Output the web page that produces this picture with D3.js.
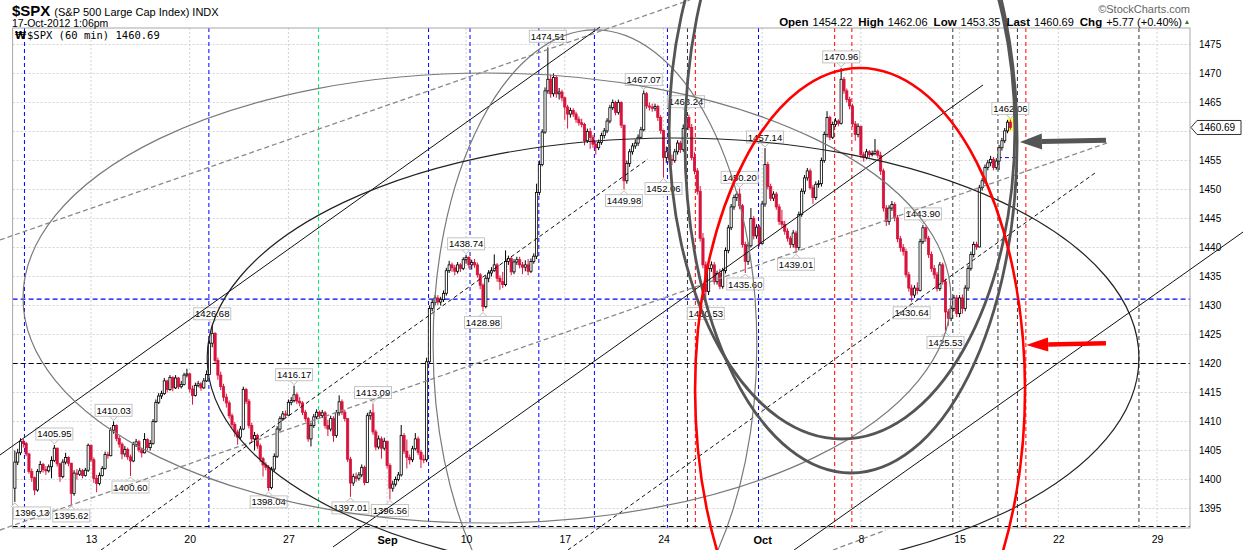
<!DOCTYPE html>
<html>
<head>
<meta charset="utf-8">
<title>$SPX 60 min</title>
<script src="https://cdn.jsdelivr.net/npm/d3@7"></script>
<style>
  body { margin: 0; background: #fff }
  svg { display: block; font-family: "Liberation Sans", Arial, sans-serif }
</style>
</head>
<body>
<svg id="chart" width="1243" height="550"></svg>
<script>
// ---- hourly bars, one row per trading day (7 bars: 9:30 .. 15:30) ----
var tradingDays = ['Aug 7', 'Aug 8', 'Aug 9', 'Aug 10', 'Aug 13', 'Aug 14', 'Aug 15', 'Aug 16', 'Aug 17',
  'Aug 20', 'Aug 21', 'Aug 22', 'Aug 23', 'Aug 24', 'Aug 27', 'Aug 28', 'Aug 29', 'Aug 30', 'Aug 31',
  'Sep 4', 'Sep 5', 'Sep 6', 'Sep 7', 'Sep 10', 'Sep 11', 'Sep 12', 'Sep 13', 'Sep 14',
  'Sep 17', 'Sep 18', 'Sep 19', 'Sep 20', 'Sep 21', 'Sep 24', 'Sep 25', 'Sep 26', 'Sep 27', 'Sep 28',
  'Oct 1', 'Oct 2', 'Oct 3', 'Oct 4', 'Oct 5', 'Oct 8', 'Oct 9', 'Oct 10', 'Oct 11', 'Oct 12',
  'Oct 15', 'Oct 16', 'Oct 17']
var firstOpen = 1398.5
var firstBar = 1      // the Aug 7 opening bar sits off the left edge
var dayOffset = 4     // Aug 13 is the first day of the x axis count

var dayCloses = [
  [1403.0, 1404.6, 1406.6, 1406.2, 1404.4, 1401.4],
  [1400.3, 1398.2, 1401.4, 1402.6, 1401.7, 1401.5, 1402.2],
  [1403.3, 1405.4, 1402.7, 1400.5, 1403.0, 1403.8, 1402.8],
  [1397.6, 1401.1, 1400.9, 1401.5, 1400.7, 1401.6, 1405.9],
  [1403.4, 1400.2, 1399.3, 1400.7, 1401.9, 1404.3, 1404.1],
  [1408.5, 1409.3, 1407.1, 1406.1, 1404.4, 1405.2, 1403.9],
  [1403.2, 1406.0, 1406.5, 1405.1, 1404.6, 1406.9, 1405.5],
  [1406.2, 1410.0, 1413.3, 1414.4, 1414.8, 1417.0, 1415.5],
  [1417.6, 1415.8, 1417.5, 1416.0, 1416.4, 1418.0, 1418.2],
  [1415.6, 1414.5, 1416.2, 1416.5, 1415.8, 1417.0, 1418.1],
  [1423.5, 1425.2, 1420.5, 1418.0, 1416.0, 1414.2, 1413.2],
  [1411.0, 1409.5, 1408.2, 1407.3, 1408.7, 1415.5, 1413.5],
  [1409.3, 1407.0, 1407.6, 1405.8, 1403.6, 1402.5, 1402.1],
  [1398.6, 1401.8, 1404.0, 1408.7, 1410.5, 1411.3, 1411.1],
  [1413.3, 1413.6, 1414.6, 1413.5, 1413.2, 1411.6, 1410.5],
  [1407.0, 1409.3, 1410.8, 1411.6, 1411.0, 1411.5, 1409.3],
  [1408.7, 1410.5, 1407.6, 1411.5, 1413.4, 1411.6, 1410.5],
  [1403.5, 1399.4, 1400.5, 1400.2, 1400.8, 1402.1, 1399.5],
  [1411.0, 1411.5, 1408.2, 1405.6, 1407.0, 1405.4, 1406.6],
  [1402.4, 1398.5, 1399.2, 1400.0, 1400.8, 1407.6, 1404.9],
  [1403.8, 1403.4, 1405.3, 1407.0, 1404.7, 1403.5, 1403.4],
  [1420.3, 1429.5, 1430.5, 1431.3, 1430.6, 1431.0, 1432.1],
  [1436.0, 1437.0, 1436.5, 1435.9, 1437.0, 1436.4, 1437.9],
  [1438.3, 1437.0, 1437.4, 1437.0, 1435.3, 1433.5, 1429.8],
  [1434.7, 1435.6, 1436.0, 1437.0, 1434.7, 1434.1, 1433.6],
  [1437.6, 1438.1, 1435.8, 1437.5, 1437.9, 1437.0, 1436.6],
  [1437.0, 1435.9, 1437.6, 1438.5, 1449.5, 1454.3, 1459.9],
  [1467.0, 1469.0, 1466.5, 1469.3, 1466.5, 1466.8, 1465.8],
  [1464.2, 1463.0, 1463.6, 1463.0, 1462.1, 1461.5, 1461.2],
  [1458.4, 1460.0, 1459.0, 1457.8, 1457.2, 1458.1, 1459.3],
  [1460.1, 1461.8, 1464.1, 1465.0, 1463.3, 1465.0, 1461.1],
  [1451.5, 1454.5, 1456.5, 1457.5, 1458.0, 1459.0, 1460.3],
  [1466.5, 1464.4, 1464.2, 1464.0, 1464.3, 1462.4, 1460.2],
  [1455.5, 1456.5, 1455.2, 1455.0, 1456.5, 1458.0, 1456.9],
  [1460.5, 1462.4, 1460.7, 1455.5, 1453.2, 1449.7, 1441.6],
  [1437.0, 1432.4, 1436.4, 1437.0, 1434.1, 1435.5, 1433.3],
  [1436.0, 1439.5, 1443.4, 1447.0, 1448.6, 1449.2, 1447.2],
  [1440.5, 1437.6, 1440.3, 1445.0, 1442.0, 1443.5, 1440.7],
  [1447.5, 1454.3, 1450.5, 1448.5, 1449.2, 1447.0, 1444.5],
  [1444.0, 1442.8, 1441.6, 1440.5, 1442.5, 1440.0, 1445.7],
  [1449.7, 1452.0, 1453.2, 1450.3, 1448.6, 1450.9, 1451.0],
  [1455.0, 1459.5, 1462.4, 1459.0, 1461.2, 1461.8, 1461.4],
  [1469.0, 1467.0, 1465.5, 1464.4, 1461.3, 1459.5, 1460.9],
  [1456.0, 1455.5, 1456.5, 1456.0, 1456.2, 1456.6, 1455.9],
  [1453.2, 1446.8, 1444.5, 1446.8, 1447.4, 1445.1, 1441.5],
  [1440.0, 1439.3, 1435.3, 1433.0, 1431.8, 1433.0, 1432.6],
  [1441.0, 1443.4, 1441.6, 1438.8, 1436.4, 1435.3, 1432.9],
  [1437.0, 1434.1, 1428.9, 1427.8, 1429.5, 1431.3, 1428.6],
  [1431.3, 1429.5, 1433.0, 1436.4, 1438.8, 1440.5, 1440.1],
  [1450.3, 1451.5, 1453.8, 1454.6, 1455.2, 1453.8, 1454.9],
  [1457.2, 1458.4, 1460.1, 1461.6, 1460.69]
]

var dayHighs = [
  [1405.0, 1405.3, 1407.1, 1407.0, 1406.5, 1404.6],
  [1401.9, 1400.5, 1401.8, 1403.2, 1402.9, 1402.3, 1402.6],
  [1404.0, 1405.95, 1405.5, 1402.9, 1403.5, 1404.6, 1404.0],
  [1402.9, 1401.6, 1401.8, 1402.0, 1401.8, 1402.0, 1406.2],
  [1406.0, 1403.8, 1400.8, 1401.2, 1402.3, 1404.8, 1404.8],
  [1409.0, 1410.03, 1409.5, 1407.5, 1406.4, 1405.8, 1405.5],
  [1404.3, 1406.5, 1407.0, 1406.8, 1405.4, 1408.0, 1407.1],
  [1406.8, 1410.4, 1413.8, 1414.9, 1415.3, 1417.5, 1417.2],
  [1418.0, 1417.8, 1418.0, 1417.7, 1417.0, 1418.4, 1419.1],
  [1418.4, 1416.2, 1416.7, 1417.0, 1416.8, 1417.5, 1418.8],
  [1424.0, 1426.68, 1425.4, 1421.0, 1418.6, 1416.5, 1414.8],
  [1413.6, 1411.4, 1409.9, 1408.6, 1409.2, 1416.0, 1415.8],
  [1413.9, 1409.8, 1408.2, 1407.9, 1406.2, 1403.9, 1403.0],
  [1402.5, 1402.2, 1404.5, 1409.2, 1410.9, 1411.8, 1411.9],
  [1413.8, 1414.2, 1416.17, 1415.0, 1414.2, 1413.5, 1412.0],
  [1410.8, 1409.8, 1411.3, 1412.1, 1411.9, 1412.0, 1411.8],
  [1410.3, 1411.0, 1410.9, 1412.0, 1414.5, 1413.8, 1412.0],
  [1410.3, 1403.9, 1401.0, 1401.2, 1401.3, 1402.6, 1402.4],
  [1411.5, 1412.0, 1413.09, 1408.6, 1407.6, 1407.4, 1407.2],
  [1406.5, 1402.8, 1399.8, 1400.5, 1401.3, 1409.4, 1408.0],
  [1406.9, 1404.3, 1405.8, 1408.0, 1407.4, 1405.1, 1404.3],
  [1421.0, 1430.0, 1431.0, 1431.8, 1431.8, 1431.5, 1432.6],
  [1436.5, 1437.7, 1437.4, 1437.0, 1437.5, 1437.3, 1438.3],
  [1438.74, 1438.5, 1437.9, 1438.0, 1437.4, 1435.6, 1433.8],
  [1435.2, 1436.1, 1436.6, 1438.8, 1437.3, 1435.2, 1435.8],
  [1439.5, 1438.6, 1438.4, 1438.0, 1438.4, 1438.4, 1437.5],
  [1437.8, 1438.0, 1438.1, 1439.0, 1451.0, 1455.0, 1460.4],
  [1467.6, 1474.51, 1469.8, 1470.0, 1469.7, 1467.5, 1467.2],
  [1466.0, 1464.6, 1464.1, 1464.0, 1463.4, 1462.6, 1462.2],
  [1461.5, 1460.5, 1460.6, 1459.4, 1458.3, 1458.6, 1459.8],
  [1460.6, 1462.3, 1464.6, 1465.5, 1465.3, 1465.5, 1465.2],
  [1461.0, 1455.0, 1457.0, 1458.0, 1458.6, 1459.5, 1460.8],
  [1467.07, 1466.8, 1465.0, 1464.8, 1464.8, 1464.6, 1462.8],
  [1459.0, 1457.4, 1456.9, 1456.0, 1457.0, 1458.5, 1458.4],
  [1461.2, 1463.24, 1462.9, 1461.3, 1456.4, 1453.7, 1450.6],
  [1442.5, 1437.6, 1437.0, 1437.6, 1437.5, 1436.0, 1436.3],
  [1436.5, 1440.0, 1443.9, 1447.5, 1449.1, 1449.7, 1450.2],
  [1447.5, 1441.0, 1440.8, 1446.8, 1445.4, 1444.0, 1443.9],
  [1448.0, 1457.14, 1454.8, 1451.0, 1449.7, 1449.6, 1447.5],
  [1446.5, 1444.6, 1443.3, 1442.0, 1443.0, 1442.9, 1446.2],
  [1450.2, 1452.5, 1453.7, 1453.6, 1450.8, 1451.4, 1451.6],
  [1455.5, 1460.0, 1463.5, 1462.7, 1461.7, 1462.3, 1462.1],
  [1470.96, 1469.4, 1467.4, 1466.0, 1464.8, 1461.8, 1461.4],
  [1460.9, 1456.5, 1457.0, 1456.8, 1456.7, 1458.7, 1456.9],
  [1456.5, 1453.6, 1447.3, 1447.3, 1448.0, 1447.8, 1445.6],
  [1442.0, 1440.6, 1439.8, 1435.8, 1433.6, 1433.5, 1434.0],
  [1441.5, 1443.9, 1443.6, 1442.0, 1439.3, 1437.0, 1435.8],
  [1437.5, 1437.4, 1434.6, 1429.4, 1430.0, 1431.8, 1431.8],
  [1431.8, 1431.9, 1433.5, 1436.9, 1439.3, 1441.0, 1441.0],
  [1450.8, 1452.0, 1454.3, 1455.1, 1455.8, 1455.6, 1455.4],
  [1457.7, 1458.9, 1460.6, 1462.0, 1462.06]
]

var dayLows = [
  [1396.13, 1402.5, 1404.2, 1405.5, 1404.0, 1401.0],
  [1399.6, 1397.3, 1397.9, 1401.0, 1401.2, 1400.8, 1401.2],
  [1400.2, 1403.0, 1402.2, 1399.6, 1400.2, 1402.6, 1402.3],
  [1395.62, 1397.2, 1400.0, 1400.6, 1400.2, 1400.5, 1401.3],
  [1403.0, 1399.4, 1397.8, 1399.0, 1400.5, 1401.7, 1403.6],
  [1404.0, 1407.9, 1406.6, 1405.5, 1403.5, 1403.9, 1403.4],
  [1400.6, 1403.0, 1405.6, 1404.7, 1403.8, 1404.5, 1405.0],
  [1405.0, 1406.0, 1409.8, 1413.0, 1413.9, 1414.6, 1415.0],
  [1415.3, 1415.2, 1415.6, 1415.6, 1415.7, 1416.2, 1417.6],
  [1415.0, 1412.9, 1414.3, 1415.9, 1415.3, 1415.6, 1416.8],
  [1418.0, 1422.8, 1420.0, 1417.2, 1415.4, 1413.5, 1412.4],
  [1410.5, 1408.9, 1407.4, 1406.0, 1407.0, 1408.5, 1413.0],
  [1408.8, 1406.4, 1405.0, 1405.3, 1403.0, 1400.5, 1401.6],
  [1398.04, 1398.3, 1401.4, 1403.7, 1408.3, 1410.1, 1410.6],
  [1411.0, 1412.8, 1413.3, 1413.0, 1412.6, 1411.1, 1410.0],
  [1406.5, 1405.7, 1408.9, 1410.4, 1410.5, 1410.6, 1408.8],
  [1407.5, 1408.3, 1406.5, 1407.2, 1411.0, 1411.1, 1410.0],
  [1403.0, 1397.01, 1398.9, 1399.6, 1399.8, 1400.4, 1399.0],
  [1399.8, 1410.3, 1407.7, 1405.0, 1405.2, 1403.6, 1405.0],
  [1401.9, 1396.56, 1397.9, 1398.8, 1399.7, 1400.5, 1404.4],
  [1401.9, 1402.6, 1403.0, 1405.0, 1404.2, 1402.0, 1402.8],
  [1403.0, 1420.0, 1429.0, 1430.0, 1430.1, 1430.0, 1430.6],
  [1431.7, 1435.6, 1435.8, 1435.2, 1435.5, 1435.8, 1436.1],
  [1437.2, 1436.4, 1436.2, 1436.5, 1434.8, 1432.8, 1428.98],
  [1429.5, 1434.0, 1435.0, 1435.8, 1434.1, 1432.7, 1433.0],
  [1433.3, 1437.0, 1435.2, 1435.4, 1437.0, 1436.4, 1435.4],
  [1435.9, 1435.2, 1435.6, 1437.2, 1438.0, 1449.0, 1454.0],
  [1459.6, 1466.5, 1465.8, 1466.0, 1465.8, 1465.5, 1465.2],
  [1462.0, 1460.5, 1462.4, 1462.5, 1461.5, 1461.0, 1460.7],
  [1457.6, 1458.0, 1457.0, 1457.2, 1456.0, 1456.8, 1457.7],
  [1458.8, 1459.7, 1461.4, 1463.7, 1462.8, 1462.9, 1460.6],
  [1449.98, 1451.0, 1453.9, 1456.0, 1457.0, 1457.5, 1458.7],
  [1460.0, 1463.9, 1463.6, 1463.4, 1463.5, 1461.8, 1459.6],
  [1452.06, 1454.6, 1454.6, 1454.2, 1454.6, 1456.0, 1456.3],
  [1456.5, 1460.2, 1460.2, 1455.0, 1452.6, 1449.1, 1441.0],
  [1436.4, 1430.53, 1431.8, 1435.8, 1433.6, 1433.6, 1432.8],
  [1432.9, 1435.5, 1439.0, 1443.0, 1446.5, 1448.0, 1446.6],
  [1440.0, 1435.6, 1437.0, 1440.0, 1441.4, 1441.5, 1440.2],
  [1440.5, 1447.0, 1450.0, 1448.0, 1448.0, 1446.5, 1443.9],
  [1443.4, 1442.2, 1441.0, 1439.9, 1440.0, 1439.01, 1439.5],
  [1445.3, 1449.2, 1451.5, 1450.0, 1447.5, 1448.2, 1450.3],
  [1450.5, 1454.6, 1459.0, 1458.5, 1458.7, 1460.8, 1460.9],
  [1461.2, 1466.5, 1465.0, 1463.8, 1460.8, 1458.4, 1459.0],
  [1455.4, 1454.8, 1455.2, 1455.5, 1455.7, 1455.9, 1455.4],
  [1452.5, 1446.2, 1443.7, 1443.9, 1446.3, 1444.5, 1440.9],
  [1439.3, 1438.6, 1434.8, 1432.4, 1430.64, 1431.3, 1431.9],
  [1432.4, 1440.6, 1441.0, 1438.2, 1435.8, 1434.6, 1432.4],
  [1432.5, 1433.6, 1425.53, 1426.5, 1427.3, 1429.0, 1428.0],
  [1428.0, 1428.6, 1429.0, 1432.5, 1436.0, 1438.3, 1439.6],
  [1440.0, 1449.8, 1451.0, 1453.3, 1454.0, 1453.3, 1453.4],
  [1453.35, 1456.7, 1458.0, 1459.7, 1460.3]
]

// ---- axes ----
var gridPrices = [1395, 1400, 1405, 1410, 1415, 1420, 1425, 1430, 1435, 1440, 1445, 1450, 1455, 1460, 1465, 1470, 1475]
var weekTickDays = [0, 5, 10, 15, 19, 24, 29, 34, 39, 44, 49, 54]   // trading days after Aug 13
var weekTickLabels = ['13', '20', '27', 'Sep', '10', '17', '24', 'Oct', '8', '15', '22', '29']
var monthLabels = ['Sep', 'Oct']

// ---- quote header ----
var quoteFields = ['Open', 'High', 'Low', 'Last', 'Chg']
var quoteValues = ['1454.22', '1462.06', '1453.35', '1460.69', '+5.77 (+0.40%)']
var lastPrice = 1460.69

// ---- annotations, in bar index / price ----
var blueMarks = [-23.6, 41.8, 119.7, 134.4, 158.8, 178.5, 204.4, 236.7]
var greenMarks = [80.7]
var redMarks = [214.3, 263.7, 269.8, 331.5]
var blackMarks = [211.5, 305.6, 321.6, 328.5, 371.6]
var blueLevels = [1431.1]
var blackLevels = [1420, 1391.9]
var shortBlueLevel = [321.6, 328.4, 1455.5]

var solidLines = [[-32.3, 1404.22, 180.5, 1478.02], [85.8, 1388.36, 316.3, 1468.02], [249.3, 1387.84, 408.5, 1442.67]]
var dashedLines = [[3.55, 1387.84, 197.5, 1455.26], [169.1, 1387.84, 356.0, 1452.84]]
var grayDashedLines = [[-32.3, 1441.29, 212.4, 1482.67], [-32.3, 1391.29, 360.3, 1458.02], [263.1, 1387.84, 281.9, 1391.29]]

var grayEllipses = [[140.4, 1431.29, 164.5, 38.79], [178.7, 1423.19, 57.4, 54.31]]
var blackEllipses = [[206.4, 1420.95, 165.2, 37.93]]
var darkEllipses = [[266.3, 1460.26, 61.3, 53.28], [269.5, 1458.36, 58.9, 57.24]]
var redEllipses = [[272.7, 1415.43, 58.5, 55.52]]

var grayArrows = [[359.9, 1458.5, 329.4, 1458.2]]
var redArrows = [[359.9, 1423.5, 331.6, 1423.2]]

var highLabels = [[-13, 1405.95], [8, 1410.03], [43, 1426.68], [72, 1416.17], [100, 1413.09], [133, 1438.74],
  [162, 1474.51], [196, 1467.07], [211, 1463.24], [230, 1450.20], [239, 1457.14], [266, 1470.96],
  [295, 1443.90], [326, 1462.06]]
var lowLabels = [[-27, 1396.13], [-7, 1395.62], [14, 1400.60], [63, 1398.04], [92, 1397.01], [106, 1396.56],
  [139, 1428.98], [189, 1449.98], [203, 1452.06], [218, 1430.53], [232, 1435.60], [250, 1439.01],
  [291, 1430.64], [303, 1425.53]]

// ---- build the bar list ----
var bars = []
var prevClose = firstOpen
tradingDays.forEach(function (day, d) {
  var start = d === 0 ? firstBar : 0
  dayCloses[d].forEach(function (c, i) {
    bars.push({ b: (d - dayOffset) * 7 + start + i, o: prevClose, c: c, hi: dayHighs[d][i], lo: dayLows[d][i] })
    prevClose = c
  })
})

var svg = d3.select('#chart')
var plot = { left: 12.6, right: 1190, top: 28, bottom: 528 }

var x = d3.scaleLinear().domain([-27.8, 389.7]).range([plot.left, plot.right])
var y = d3.scaleLinear().domain([1391.64, 1477.84]).range([plot.bottom, plot.top])

// grid
var grid = svg.append('g').attr('stroke', '#d2d2d2').attr('stroke-dasharray', '2,2').attr('stroke-width', 1)
grid.selectAll('line.h').data(gridPrices).enter().append('line')
  .attr('x1', plot.left).attr('x2', plot.right)
  .attr('y1', function (p) { return y(p) }).attr('y2', function (p) { return y(p) })
grid.selectAll('line.v').data(weekTickDays).enter().append('line')
  .attr('y1', plot.top).attr('y2', plot.bottom)
  .attr('x1', function (k) { return x(k * 7) }).attr('x2', function (k) { return x(k * 7) })

// vertical marker lines
function vMarks(list, colour) {
  svg.append('g').selectAll('line').data(list).enter().append('line')
    .attr('x1', function (b) { return x(b) }).attr('x2', function (b) { return x(b) })
    .attr('y1', plot.top).attr('y2', plot.bottom)
    .attr('stroke', colour).attr('stroke-width', 1).attr('stroke-dasharray', '4,3')
}
vMarks(blueMarks, '#0000ff')
vMarks(greenMarks, '#00e676')
vMarks(redMarks, '#ff0000')
vMarks(blackMarks, '#333')

// horizontal levels
function hLevels(list, colour) {
  svg.append('g').selectAll('line').data(list).enter().append('line')
    .attr('x1', plot.left).attr('x2', plot.right)
    .attr('y1', function (p) { return y(p) }).attr('y2', function (p) { return y(p) })
    .attr('stroke', colour).attr('stroke-width', 1.2).attr('stroke-dasharray', '5,3')
}
hLevels(blueLevels, '#0000ff')
hLevels(blackLevels, '#000')
svg.append('line')
  .attr('x1', x(shortBlueLevel[0])).attr('x2', x(shortBlueLevel[1]))
  .attr('y1', y(shortBlueLevel[2])).attr('y2', y(shortBlueLevel[2]))
  .attr('stroke', '#0000ff').attr('stroke-dasharray', '4,3')

// plot frame
svg.append('rect')
  .attr('x', plot.left).attr('y', plot.top)
  .attr('width', plot.right - plot.left).attr('height', plot.bottom - plot.top)
  .attr('fill', 'none').attr('stroke', '#a8a8a8')

// candles
var red = '#d7143c'
var lastBar = bars[bars.length - 1]
svg.append('rect')
  .attr('x', x(lastBar.b) - 3).attr('y', y(lastBar.hi) - 2)
  .attr('width', 6).attr('height', y(lastBar.lo) - y(lastBar.hi) + 4)
  .attr('fill', '#ffff55')

var candle = svg.append('g').selectAll('g').data(bars).enter().append('g')
candle.append('line')
  .attr('x1', function (d) { return x(d.b) }).attr('x2', function (d) { return x(d.b) })
  .attr('y1', function (d) { return y(Math.max(d.hi, d.o, d.c)) })
  .attr('y2', function (d) { return y(Math.min(d.lo, d.o, d.c)) })
  .attr('stroke', function (d) { return d.c >= d.o ? '#000' : red })
  .attr('stroke-width', 1)
candle.append('rect')
  .attr('x', function (d) { return x(d.b) - 1.1 })
  .attr('width', 2.2)
  .attr('y', function (d) { return y(Math.max(d.o, d.c)) })
  .attr('height', function (d) { return Math.max(0.8, Math.abs(y(d.o) - y(d.c))) })
  .attr('fill', function (d) { return d.c >= d.o ? '#fff' : red })
  .attr('stroke', function (d) { return d.c >= d.o ? '#000' : red })
  .attr('stroke-width', 0.8)

// high / low callouts
var labelLayer = svg.append('g').attr('font-size', '9.5px')
function callouts(list, above) {
  list.forEach(function (d) {
    var txt = d[1].toFixed(2)
    var w = 37, h = 12
    var px = x(d[0]), py = y(d[1])
    var cx = Math.max(plot.left + w / 2 + 1, px)
    var top = above ? py - 5 - h : py + 5
    var edge = above ? top + h : top
    labelLayer.append('path')
      .attr('d', 'M' + (px - 4) + ',' + edge + 'L' + px + ',' + (above ? py - 1 : py + 1) + 'L' + (px + 4) + ',' + edge)
      .attr('fill', '#fff').attr('stroke', '#bbb')
    labelLayer.append('rect')
      .attr('x', cx - w / 2).attr('y', top).attr('width', w).attr('height', h)
      .attr('fill', '#fff').attr('stroke', '#c4c4c4')
    labelLayer.append('text')
      .attr('x', cx).attr('y', top + h - 2.5).attr('text-anchor', 'middle').attr('fill', '#000')
      .text(txt)
  })
}
callouts(highLabels, true)
callouts(lowLabels, false)

// trend lines
function lines(list, colour, dash, width) {
  svg.append('g').selectAll('line').data(list).enter().append('line')
    .attr('x1', function (d) { return x(d[0]) }).attr('y1', function (d) { return y(d[1]) })
    .attr('x2', function (d) { return x(d[2]) }).attr('y2', function (d) { return y(d[3]) })
    .attr('stroke', colour).attr('stroke-width', width).attr('stroke-dasharray', dash)
}
lines(grayDashedLines, '#8a8a8a', '5,3', 1.3)
lines(dashedLines, '#111', '4,3', 1)
lines(solidLines, '#111', null, 1)

// ellipses
function ellipses(list, colour, width) {
  svg.append('g').selectAll('ellipse').data(list).enter().append('ellipse')
    .attr('cx', function (d) { return x(d[0]) }).attr('cy', function (d) { return y(d[1]) })
    .attr('rx', function (d) { return x(d[0] + d[2]) - x(d[0]) })
    .attr('ry', function (d) { return y(d[1] - d[3]) - y(d[1]) })
    .attr('fill', 'none').attr('stroke', colour).attr('stroke-width', width)
}
ellipses(grayEllipses, '#7a7a7a', 1.2)
ellipses(blackEllipses, '#222', 1.2)
ellipses(darkEllipses, '#555', 2.8)
ellipses(redEllipses, '#ff0000', 2.6)

// arrows
function arrows(list, colour, shaft, half) {
  list.forEach(function (d) {
    var x1 = x(d[0]), y1 = y(d[1]), x2 = x(d[2]), y2 = y(d[3])
    var len = Math.hypot(x2 - x1, y2 - y1), ux = (x2 - x1) / len, uy = (y2 - y1) / len
    var bx = x2 - ux * 22, by = y2 - uy * 22
    svg.append('line').attr('x1', x1).attr('y1', y1).attr('x2', bx).attr('y2', by)
      .attr('stroke', colour).attr('stroke-width', shaft)
    svg.append('path')
      .attr('d', 'M' + x2 + ',' + y2 + 'L' + (bx - uy * half) + ',' + (by + ux * half) +
        'L' + (bx + uy * half) + ',' + (by - ux * half) + 'Z')
      .attr('fill', colour)
  })
}
arrows(grayArrows, '#555', 5, 8)
arrows(redArrows, '#ff0000', 4.5, 7)

// right price axis
var yAxis = svg.append('g').attr('transform', 'translate(' + plot.right + ',0)')
  .call(d3.axisRight(y)
    .tickValues(gridPrices.filter(function (p) { return Math.abs(y(p) - y(lastPrice)) > 9 }))
    .tickFormat(d3.format('d')).tickSize(0).tickPadding(9))
yAxis.select('.domain').remove()
yAxis.selectAll('text').attr('font-size', '10px').attr('font-family', '"Liberation Sans", Arial, sans-serif').attr('fill', '#000')

// last price tag
var ly = y(lastPrice)
svg.append('path')
  .attr('d', 'M' + (plot.right + 1) + ',' + ly + 'L' + (plot.right + 7) + ',' + (ly - 7) + 'L1241,' + (ly - 7) +
    'L1241,' + (ly + 7) + 'L' + (plot.right + 7) + ',' + (ly + 7) + 'Z')
  .attr('fill', '#fff').attr('stroke', '#333')
svg.append('text').attr('x', plot.right + 9).attr('y', ly + 3.5)
  .attr('font-size', '10px').attr('fill', '#000').text(lastPrice.toFixed(2))

// bottom date axis
var xAxis = svg.append('g').attr('transform', 'translate(0,' + plot.bottom + ')')
  .call(d3.axisBottom(x)
    .tickValues(weekTickDays.map(function (k) { return k * 7 }))
    .tickFormat(function (b, i) { return weekTickLabels[i] }).tickSize(0).tickPadding(8))
xAxis.select('.domain').remove()
xAxis.selectAll('text')
  .attr('font-family', '"Liberation Sans", Arial, sans-serif').attr('fill', '#000')
  .attr('font-size', function () { return monthLabels.indexOf(d3.select(this).text()) >= 0 ? '11px' : '10.5px' })
  .attr('font-weight', function () { return monthLabels.indexOf(d3.select(this).text()) >= 0 ? 'bold' : 'normal' })

// titles
var head = svg.append('text').attr('x', 12).attr('y', 16)
head.append('tspan').attr('font-size', '15px').attr('font-weight', 'bold').text('$SPX')
head.append('tspan').attr('font-size', '11px').attr('dx', 4).text('(S&P 500 Large Cap Index) INDX')
svg.append('text').attr('x', 12).attr('y', 27).attr('font-size', '10.5px').text('17-Oct-2012 1:06pm')

svg.append('text').attr('x', plot.right).attr('y', 13).attr('text-anchor', 'end')
  .attr('font-size', '11px').attr('fill', '#666').text('\u00a9StockCharts.com')

var quote = svg.append('text').attr('x', plot.right - 8).attr('y', 26).attr('text-anchor', 'end').attr('font-size', '11px')
quoteFields.forEach(function (f, i) {
  quote.append('tspan').attr('font-weight', 'bold').attr('font-size', '11.5px').attr('dx', i ? 6 : 0).text(f)
  quote.append('tspan').attr('dx', 4).text(quoteValues[i])
})
svg.append('path').attr('d', 'M' + (plot.right - 5) + ',24L' + (plot.right - 1) + ',24L' + (plot.right - 3) + ',20Z')
  .attr('fill', '#2e7d32')

// legend inside the plot
svg.append('text').attr('x', 15).attr('y', 39).attr('font-size', '10px').attr('font-weight', 'bold')
  .attr('font-family', '"DejaVu Sans", sans-serif').text('\u20a9')
svg.append('text').attr('x', 27).attr('y', 39).attr('font-size', '10.5px')
  .attr('font-family', '"DejaVu Sans Mono", monospace').text('$SPX (60 min) ' + lastPrice.toFixed(2))
</script>
</body>
</html>
